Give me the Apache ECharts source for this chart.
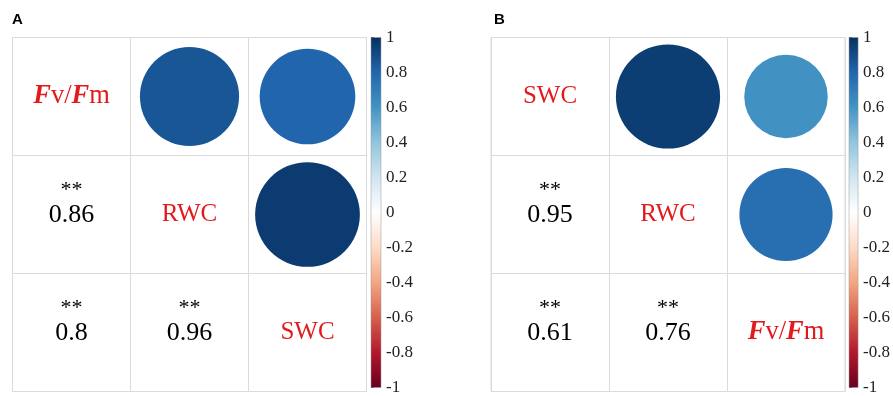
<!DOCTYPE html>
<html>
<head>
<meta charset="utf-8">
<script src="https://cdn.jsdelivr.net/npm/echarts@6/dist/echarts.min.js"></script>
<style>
  html, body { margin: 0; padding: 0; background: #ffffff; }
  #chart { width: 893px; height: 396px; }
</style>
</head>
<body>
<div id="chart"></div>
<script>
// Panel A: correlation of Fv/Fm, RWC, SWC
const varsA = ['Fv/Fm', 'RWC', 'SWC'];
const corrA = [
  [1.00, 0.86, 0.80],
  [0.86, 1.00, 0.96],
  [0.80, 0.96, 1.00]
];
const sigA = [
  ['', '', ''],
  ['**', '', ''],
  ['**', '**', '']
];

// Panel B: correlation of SWC, RWC, Fv/Fm
const varsB = ['SWC', 'RWC', 'Fv/Fm'];
const corrB = [
  [1.00, 0.95, 0.61],
  [0.95, 1.00, 0.76],
  [0.61, 0.76, 1.00]
];
const sigB = [
  ['', '', ''],
  ['**', '', ''],
  ['**', '**', '']
];

const panelLabels = ['A', 'B'];

// Colour scale (RdBu, from -1 to 1)
const scaleMin = -1;
const scaleMax = 1;
const scaleStep = 0.2;
const rdbu = ['#67001F', '#B2182B', '#D6604D', '#F4A582', '#FDDBC7', '#FFFFFF',
              '#D1E5F0', '#92C5DE', '#4393C3', '#2166AC', '#053061'];

// ---- layout ----
const SERIF = 'Liberation Serif';
const SANS = 'Liberation Sans';
const NAME_RED = '#E31A1C';
const GRID_GREY = '#DADADA';
const panels = [
  { vars: varsA, corr: corrA, sig: sigA, left: 12.5, barLeft: 371, titleLeft: 12 },
  { vars: varsB, corr: corrB, sig: sigB, left: 491, barLeft: 849, titleLeft: 494 }
];
const TOP = 37.5;
const SIZE = 354;
const BAR_W = 10;

function nameRich(name) {
  if (name === 'Fv/Fm') return '{bi|F}{r|v/}{bi|F}{r|m}';
  return '{n|' + name + '}';
}
const nameRichStyles = {
  bi: { fontFamily: SERIF, fontSize: 26.5, fontStyle: 'italic', fontWeight: 'bold', fill: NAME_RED, color: NAME_RED },
  r: { fontFamily: SERIF, fontSize: 26.5, fill: NAME_RED, color: NAME_RED },
  n: { fontFamily: SERIF, fontSize: 25, fill: NAME_RED, color: NAME_RED }
};

function circleItems(corr) {
  const out = [];
  for (let i = 0; i < corr.length; i++)
    for (let j = i + 1; j < corr.length; j++)
      out.push([j, i, corr[i][j]]);
  return out;
}
function textItems(vars, corr, sig) {
  const out = [];
  for (let i = 0; i < corr.length; i++)
    for (let j = 0; j <= i; j++)
      out.push({ value: [j, i, corr[i][j]], name: i === j ? vars[i] : '', sig: sig[i][j], diag: i === j });
  return out;
}

function renderCircle(params, api) {
  const c = api.coord([api.value(0) + 0.5, api.value(1) + 0.5]);
  const s = api.size([1, 1]);
  const cell = Math.min(Math.abs(s[0]), Math.abs(s[1]));
  const r = 0.453 * cell * Math.sqrt(Math.abs(api.value(2)));
  return { type: 'circle', shape: { cx: c[0], cy: c[1], r: r }, style: { fill: api.visual('color') } };
}

function makeTextRenderer(items) {
  return function (params, api) {
    const it = items[params.dataIndex];
    const c = api.coord([api.value(0) + 0.5, api.value(1) + 0.5]);
    if (it.diag) {
      return {
        type: 'text',
        style: { x: c[0], y: c[1], text: nameRich(it.name), rich: nameRichStyles,
                 align: 'center', verticalAlign: 'middle', fill: NAME_RED,
                 fontFamily: SERIF, fontSize: 25 }
      };
    }
    return {
      type: 'group',
      children: [
        { type: 'text', style: { x: c[0], y: c[1] - 24, text: it.sig, align: 'center', verticalAlign: 'middle',
                                 fontFamily: SERIF, fontSize: 22, fill: '#000' } },
        { type: 'text', style: { x: c[0], y: c[1] + 1, text: String(api.value(2)), align: 'center', verticalAlign: 'middle',
                                 fontFamily: SERIF, fontSize: 26, fill: '#000' } }
      ]
    };
  };
}

function renderBar(params, api) {
  const p0 = api.coord([0, scaleMax]);
  const p1 = api.coord([1, scaleMin]);
  const stops = rdbu.map((col, k) => ({ offset: 1 - k / (rdbu.length - 1), color: col }));
  return {
    type: 'rect',
    shape: { x: p0[0], y: p0[1], width: p1[0] - p0[0], height: p1[1] - p0[1] },
    style: { fill: new echarts.graphic.LinearGradient(0, 0, 0, 1, stops.reverse()), stroke: '#9a9a9a', lineWidth: 0.5 }
  };
}

const grid = [], xAxis = [], yAxis = [], series = [], title = [];
const circleSeriesIdx = [];
panels.forEach((p, k) => {
  // matrix grid
  grid.push({ left: p.left, top: TOP, width: SIZE, height: SIZE, show: true,
              borderColor: GRID_GREY, borderWidth: 1, backgroundColor: '#fff' });
  xAxis.push({ type: 'value', gridIndex: 2 * k, min: 0, max: 3, interval: 1,
               axisLine: { show: false }, axisTick: { show: false }, axisLabel: { show: false },
               splitLine: { show: true, lineStyle: { color: GRID_GREY, width: 1 } } });
  yAxis.push({ type: 'value', gridIndex: 2 * k, min: 0, max: 3, interval: 1, inverse: true,
               axisLine: { show: false }, axisTick: { show: false }, axisLabel: { show: false },
               splitLine: { show: true, lineStyle: { color: GRID_GREY, width: 1 } } });
  // colour bar grid
  grid.push({ left: p.barLeft, top: TOP, width: BAR_W, height: SIZE });
  xAxis.push({ type: 'value', gridIndex: 2 * k + 1, min: 0, max: 1, show: false });
  yAxis.push({ type: 'value', gridIndex: 2 * k + 1, min: scaleMin, max: scaleMax, interval: scaleStep,
               position: 'right',
               axisLine: { show: false },
               axisTick: { show: true, length: 3, lineStyle: { color: '#333', width: 1 } },
               axisLabel: { show: true, margin: 5, fontFamily: SERIF, fontSize: 17, color: '#222' },
               splitLine: { show: false } });

  circleSeriesIdx.push(series.length);
  series.push({ type: 'custom', xAxisIndex: 2 * k, yAxisIndex: 2 * k,
                data: circleItems(p.corr), renderItem: renderCircle, silent: true });
  const items = textItems(p.vars, p.corr, p.sig);
  series.push({ type: 'custom', xAxisIndex: 2 * k, yAxisIndex: 2 * k,
                data: items.map(d => d.value), renderItem: makeTextRenderer(items), silent: true });
  series.push({ type: 'custom', xAxisIndex: 2 * k + 1, yAxisIndex: 2 * k + 1,
                data: [[0, scaleMax]], renderItem: renderBar, silent: true });

  title.push({ text: panelLabels[k], left: p.titleLeft, top: 12, padding: 0,
               textStyle: { fontFamily: SANS, fontWeight: 'bold', fontSize: 15, color: '#000' } });
});

const chart = echarts.init(document.getElementById('chart'), null, { renderer: 'canvas' });
chart.setOption({
  animation: false,
  backgroundColor: '#ffffff',
  title: title,
  grid: grid,
  xAxis: xAxis,
  yAxis: yAxis,
  visualMap: [{ type: 'continuous', show: false, min: scaleMin, max: scaleMax, dimension: 2,
                seriesIndex: circleSeriesIdx, inRange: { color: rdbu } }],
  series: series
});
</script>
</body>
</html>
